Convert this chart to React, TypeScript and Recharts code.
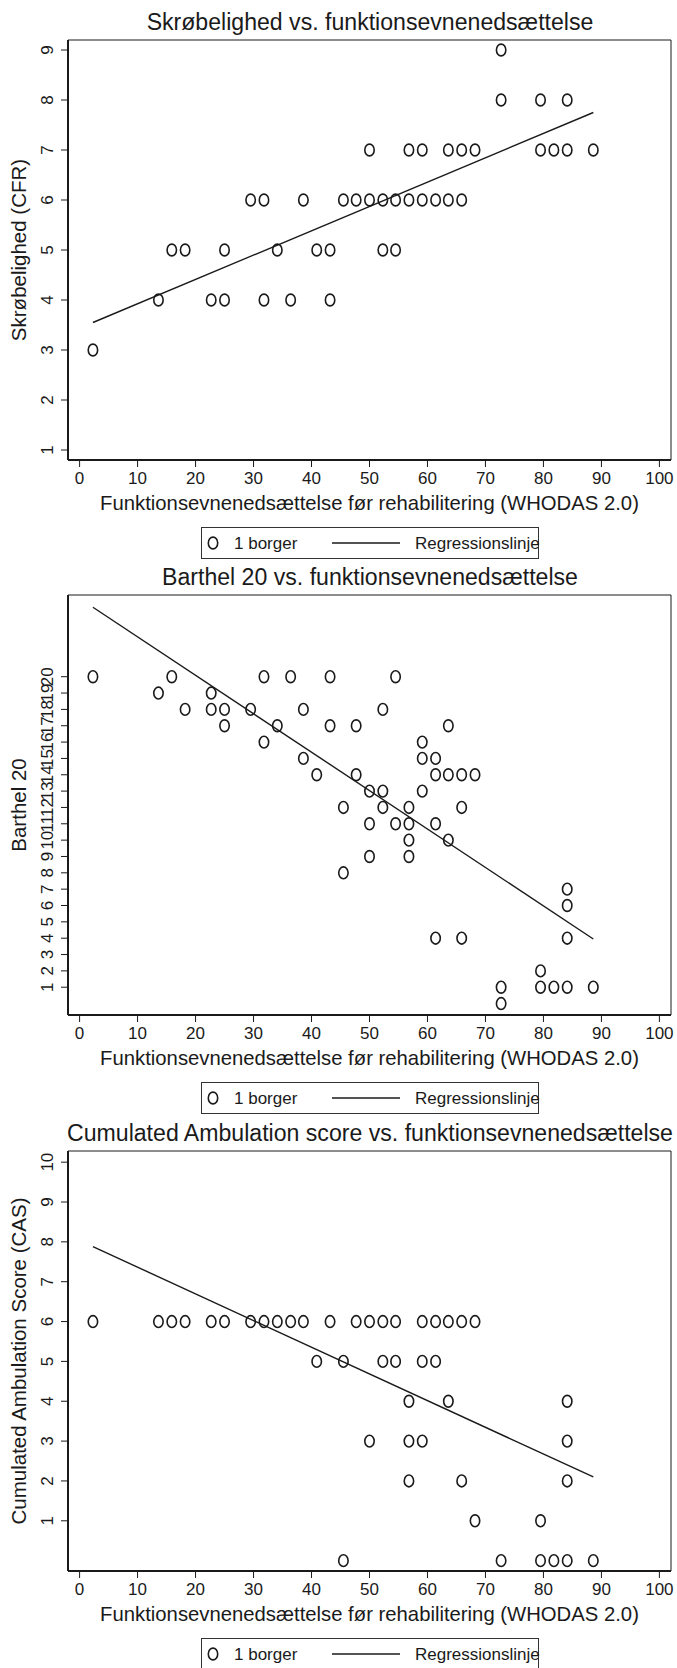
import React from 'react'
import { ScatterChart, Scatter, XAxis, YAxis, ReferenceArea } from 'recharts'

const FONT = '"Liberation Sans", Arial, sans-serif'
const INK = '#1a1a1a'

const whodasTicks = [0, 10, 20, 30, 40, 50, 60, 70, 80, 90, 100]
const whodasLabel = 'Funktionsevnenedsættelse før rehabilitering (WHODAS 2.0)'

// Skrøbelighed (CFR)
const cfrWhodas = [72.7, 72.7, 79.5, 84.1, 50, 56.8, 59.1, 63.6, 65.9, 68.2, 79.5, 81.8, 84.1, 88.6, 29.5, 31.8, 38.6, 45.5, 47.7, 50, 52.3, 54.5, 56.8, 59.1, 61.4, 63.6, 65.9, 15.9, 18.2, 25, 34.1, 40.9, 43.2, 52.3, 54.5, 13.6, 22.7, 25, 31.8, 36.4, 43.2, 2.3]
const cfrScore = [9, 8, 8, 8, 7, 7, 7, 7, 7, 7, 7, 7, 7, 7, 6, 6, 6, 6, 6, 6, 6, 6, 6, 6, 6, 6, 6, 5, 5, 5, 5, 5, 5, 5, 5, 4, 4, 4, 4, 4, 4, 3]
const cfrFitX = [2.3, 88.6]
const cfrFitY = [3.55, 7.75]
const cfrTicks = [1, 2, 3, 4, 5, 6, 7, 8, 9]

// Barthel 20
const barthelWhodas = [2.3, 15.9, 31.8, 36.4, 43.2, 54.5, 13.6, 22.7, 18.2, 22.7, 25, 29.5, 38.6, 52.3, 25, 34.1, 43.2, 47.7, 63.6, 31.8, 59.1, 38.6, 59.1, 61.4, 40.9, 47.7, 61.4, 63.6, 65.9, 68.2, 50, 52.3, 59.1, 45.5, 52.3, 56.8, 65.9, 50, 54.5, 56.8, 61.4, 56.8, 63.6, 50, 56.8, 45.5, 84.1, 84.1, 61.4, 65.9, 84.1, 79.5, 72.7, 79.5, 81.8, 84.1, 88.6, 72.7]
const barthelScore = [20, 20, 20, 20, 20, 20, 19, 19, 18, 18, 18, 18, 18, 18, 17, 17, 17, 17, 17, 16, 16, 15, 15, 15, 14, 14, 14, 14, 14, 14, 13, 13, 13, 12, 12, 12, 12, 11, 11, 11, 11, 10, 10, 9, 9, 8, 7, 6, 4, 4, 4, 2, 1, 1, 1, 1, 1, 0]
const barthelFitX = [2.3, 88.6]
const barthelFitY = [24.25, 3.95]
const barthelTicks = [1, 2, 3, 4, 5, 6, 7, 8, 9, 10, 11, 12, 13, 14, 15, 16, 17, 18, 19, 20]

// Cumulated Ambulation Score
const casWhodas = [2.3, 13.6, 15.9, 18.2, 22.7, 25, 29.5, 31.8, 34.1, 36.4, 38.6, 43.2, 47.7, 50, 52.3, 54.5, 59.1, 61.4, 63.6, 65.9, 68.2, 40.9, 45.5, 52.3, 54.5, 59.1, 61.4, 56.8, 63.6, 84.1, 50, 56.8, 59.1, 84.1, 56.8, 65.9, 84.1, 68.2, 79.5, 45.5, 72.7, 79.5, 81.8, 84.1, 88.6]
const casScore = [6, 6, 6, 6, 6, 6, 6, 6, 6, 6, 6, 6, 6, 6, 6, 6, 6, 6, 6, 6, 6, 5, 5, 5, 5, 5, 5, 4, 4, 4, 3, 3, 3, 3, 2, 2, 2, 1, 1, 0, 0, 0, 0, 0, 0]
const casFitX = [2.3, 88.6]
const casFitY = [7.88, 2.1]
const casTicks = [1, 2, 3, 4, 5, 6, 7, 8, 9, 10]

const zip = (xs: number[], ys: number[]) => xs.map((x, i) => ({ x, y: ys[i] }))

const Ring = (p: any) => (
  <ellipse cx={p.cx} cy={p.cy} rx={4.7} ry={5.9} fill="none" stroke={INK} strokeWidth={1.6} />
)
const NoDot = () => <g />

const RotTick = (p: any) => (
  <text
    transform={`translate(${p.x - 2},${p.y}) rotate(-90)`}
    textAnchor="middle"
    fontSize={17}
    fontFamily={FONT}
    fill={INK}
  >
    {p.payload.value}
  </text>
)

const XTick = (p: any) => (
  <text x={p.x} y={p.y} dy={15} textAnchor="middle" fontSize={17} fontFamily={FONT} fill={INK}>
    {p.payload.value}
  </text>
)

type PanelProps = {
  top: number
  title: string
  yLabel: string
  xs: number[]
  ys: number[]
  fitX: number[]
  fitY: number[]
  yDomain: [number, number]
  yTicks: number[]
}

const Panel = ({ top, title, yLabel, xs, ys, fitX, fitY, yDomain, yTicks }: PanelProps) => {
  const yTitle = (props: any) => {
    const vb = props.viewBox
    return (
      <text
        transform={`translate(${vb.x + 26},${vb.y + vb.height / 2}) rotate(-90)`}
        textAnchor="middle"
        fontSize={20.5}
        fontFamily={FONT}
        fill={INK}
      >
        {yLabel}
      </text>
    )
  }
  return (
    <div style={{ position: 'absolute', left: 0, top, width: 677, height: 560 }}>
      <div
        style={{
          position: 'absolute',
          left: 30,
          width: 680,
          top: 8,
          textAlign: 'center',
          fontFamily: FONT,
          fontSize: 23.1,
          lineHeight: '29px',
          color: INK,
          whiteSpace: 'nowrap',
        }}
      >
        {title}
      </div>
      <ScatterChart width={677} height={525} margin={{ top: 40, right: 6, bottom: 0, left: 0 }}>
        <ReferenceArea x1={-2} x2={102} y1={yDomain[0]} y2={yDomain[1]} fill="none" stroke={INK} strokeWidth={1} />
        <XAxis
          type="number"
          dataKey="x"
          domain={[-2, 102]}
          ticks={whodasTicks}
          allowDataOverflow
          height={65}
          tickSize={7}
          tick={<XTick />}
          axisLine={{ stroke: INK, strokeWidth: 2 }}
          tickLine={{ stroke: INK }}
          label={{ value: whodasLabel, position: 'insideBottom', offset: 15, fontSize: 20.3, fontFamily: FONT, fill: INK }}
        />
        <YAxis
          type="number"
          dataKey="y"
          domain={yDomain}
          ticks={yTicks}
          interval={0}
          allowDataOverflow
          width={68}
          tickSize={7}
          tickMargin={6}
          tick={<RotTick />}
          axisLine={{ stroke: INK, strokeWidth: 2 }}
          tickLine={{ stroke: INK }}
          label={yTitle}
        />
        <Scatter data={zip(xs, ys)} shape={<Ring />} isAnimationActive={false} />
        <Scatter
          data={zip(fitX, fitY)}
          shape={<NoDot />}
          line={{ stroke: INK, strokeWidth: 1.4 }}
          isAnimationActive={false}
        />
      </ScatterChart>
      <div
        style={{
          position: 'absolute',
          left: 201,
          top: 527,
          width: 338,
          height: 32,
          border: '1px solid #333',
          boxSizing: 'border-box',
        }}
      >
        <svg width={338} height={32} style={{ position: 'absolute', left: -1, top: -1, overflow: 'visible' }}>
          <ellipse cx={12} cy={16} rx={4.7} ry={5.9} fill="none" stroke={INK} strokeWidth={1.6} />
          <text x={33} y={22} fontSize={17} fontFamily={FONT} fill={INK}>1 borger</text>
          <line x1={131} x2={199} y1={16} y2={16} stroke={INK} strokeWidth={1.4} />
          <text x={214} y={22} fontSize={17} fontFamily={FONT} fill={INK}>Regressionslinje</text>
        </svg>
      </div>
    </div>
  )
}

export default function App() {
  return (
    <div style={{ position: 'absolute', left: 0, top: 0, width: 677, height: 1668, background: '#fff', overflow: 'hidden' }}>
      <Panel
        top={0}
        title="Skrøbelighed vs. funktionsevnenedsættelse"
        yLabel="Skrøbelighed (CFR)"
        xs={cfrWhodas}
        ys={cfrScore}
        fitX={cfrFitX}
        fitY={cfrFitY}
        yDomain={[0.8, 9.2]}
        yTicks={cfrTicks}
      />
      <Panel
        top={555}
        title="Barthel 20 vs. funktionsevnenedsættelse"
        yLabel="Barthel 20"
        xs={barthelWhodas}
        ys={barthelScore}
        fitX={barthelFitX}
        fitY={barthelFitY}
        yDomain={[-0.7, 25]}
        yTicks={barthelTicks}
      />
      <Panel
        top={1111}
        title="Cumulated Ambulation score vs. funktionsevnenedsættelse"
        yLabel="Cumulated Ambulation Score (CAS)"
        xs={casWhodas}
        ys={casScore}
        fitX={casFitX}
        fitY={casFitY}
        yDomain={[-0.26, 10.28]}
        yTicks={casTicks}
      />
    </div>
  )
}
